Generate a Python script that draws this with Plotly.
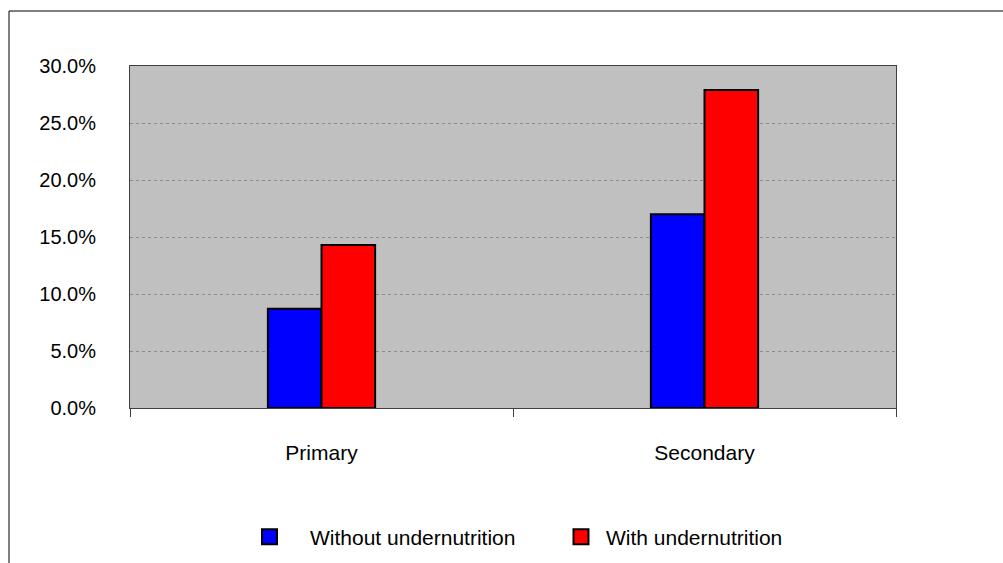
import plotly.graph_objects as go

categories = ["Primary", "Secondary"]
without_under = [0.087, 0.170]
with_under = [0.143, 0.279]
series_names = ["Without undernutrition", "With undernutrition"]
series_colors = ["#0000FF", "#FF0000"]
y_ticks = [0, 0.05, 0.10, 0.15, 0.20, 0.25, 0.30]
y_tick_labels = ["0.0%", "5.0%", "10.0%", "15.0%", "20.0%", "25.0%", "30.0%"]

W, H = 1003, 563
L, R, T, B = 130, 107, 66, 155
pw, ph = W - L - R, H - T - B

FONT = "Liberation Sans, Arial, sans-serif"

fig = go.Figure()
for vals, name, col in [(without_under, series_names[0], series_colors[0]),
                        (with_under, series_names[1], series_colors[1])]:
    fig.add_trace(go.Bar(x=categories, y=vals, name=name, showlegend=False,
                         marker=dict(color=col, line=dict(color="#000000", width=2))))

# legend entries (square swatches like the original)
for name, col, lg in [(series_names[0], series_colors[0], "legend"),
                      (series_names[1], series_colors[1], "legend2")]:
    fig.add_trace(go.Scatter(x=[None], y=[None], mode="markers", name=name, legend=lg,
                             marker=dict(symbol="square", size=15, color=col,
                                         line=dict(color="#000000", width=2))))

legend_common = dict(orientation="h", yanchor="middle", xanchor="left",
                     font=dict(family=FONT, size=21, color="#000000"),
                     bgcolor="rgba(0,0,0,0)", borderwidth=0)
y_leg = (408 - 537) / ph

fig.update_layout(
    width=W, height=H,
    margin=dict(l=L, r=R, t=T, b=B, pad=0, autoexpand=False),
    paper_bgcolor="#FFFFFF",
    plot_bgcolor="#C0C0C0",
    barmode="group",
    bargap=0.72,
    bargroupgap=0,
    font=dict(family=FONT, size=21, color="#000000"),
    showlegend=True,
    legend=dict(x=(229 - L) / pw, y=y_leg, itemwidth=71, **legend_common),
    legend2=dict(x=(556 - L) / pw, y=y_leg, itemwidth=40, **legend_common),
    xaxis=dict(showline=True, linecolor="#404040", linewidth=1, mirror=True,
               ticks="outside", tickson="boundaries", ticklen=8, tickcolor="#404040",
               ticklabelstandoff=26, showgrid=False,
               tickfont=dict(family=FONT, size=21, color="#000000")),
    yaxis=dict(range=[0, 0.30], tickvals=y_ticks, ticktext=y_tick_labels,
               showline=True, linecolor="#404040", linewidth=1, mirror=True,
               showgrid=True, gridcolor="#8C8C8C", griddash="dot", gridwidth=1,
               ticks="", ticklabelstandoff=29, zeroline=False,
               tickfont=dict(family=FONT, size=20, color="#000000")),
)

# outer chart border (top and left edges visible)
x_left = (9 - L) / pw
y_top = 1 + (T - 11) / ph
fig.add_shape(type="line", xref="paper", yref="paper", x0=x_left, x1=(W + 10 - L) / pw,
              y0=y_top, y1=y_top, line=dict(color="#000000", width=1))
fig.add_shape(type="line", xref="paper", yref="paper", x0=x_left, x1=x_left,
              y0=y_top, y1=-(B + 10) / ph, line=dict(color="#000000", width=1))

fig.write_html("out.html", config={"displayModeBar": False},
               post_script="document.body.style.margin='0';")
